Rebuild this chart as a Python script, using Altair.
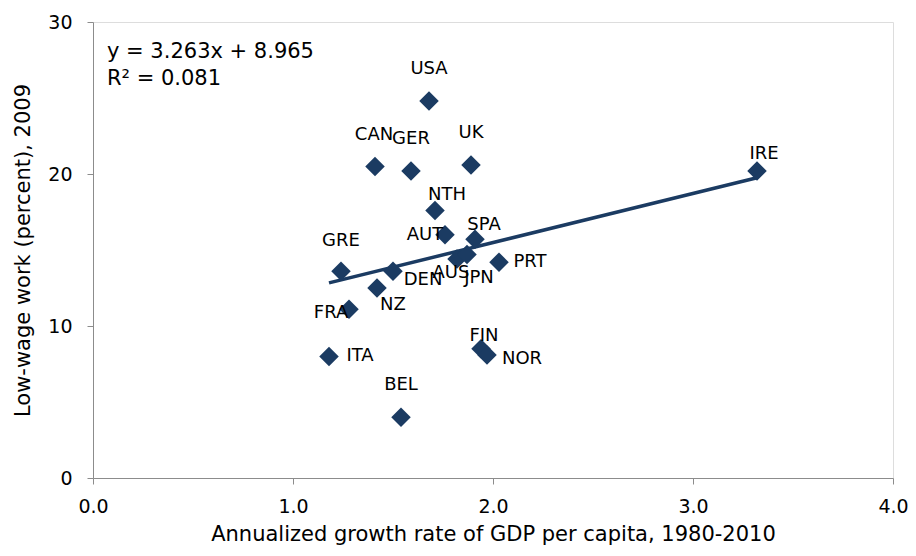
import altair as alt
import pandas as pd

countries = ["USA", "CAN", "GER", "UK", "NTH", "AUT", "SPA", "GRE", "DEN", "NZ",
             "FRA", "AUS", "JPN", "PRT", "ITA", "FIN", "NOR", "BEL", "IRE"]
growth = [1.68, 1.41, 1.59, 1.89, 1.71, 1.76, 1.91, 1.24, 1.50, 1.42,
          1.28, 1.82, 1.87, 2.03, 1.18, 1.94, 1.97, 1.54, 3.32]
lowwage = [24.8, 20.5, 20.2, 20.6, 17.6, 16.0, 15.7, 13.6, 13.6, 12.5,
           11.1, 14.4, 14.7, 14.2, 8.0, 8.5, 8.1, 4.0, 20.2]
equation_lines = ["y = 3.263x + 8.965", "R² = 0.081"]
x_ticks = [0, 1, 2, 3, 4]
y_ticks = [0, 10, 20, 30]

# label placement (pixel offsets from each marker), kept apart from the data
label_dx = {"USA": 0, "CAN": -1, "GER": 0, "UK": 0, "NTH": 12, "AUT": -20, "SPA": 9,
            "GRE": 0, "DEN": 30, "NZ": 16, "FRA": -18, "AUS": -6, "JPN": 12, "PRT": 31,
            "ITA": 31, "FIN": 3, "NOR": 35, "BEL": 0, "IRE": 7}
label_dy = {"USA": -32, "CAN": -31, "GER": -32, "UK": -32, "NTH": -15, "AUT": 0, "SPA": -14,
            "GRE": -30, "DEN": 9, "NZ": 17, "FRA": 4, "AUS": 14, "JPN": 23, "PRT": 0,
            "ITA": 0, "FIN": -13, "NOR": 4, "BEL": -32, "IRE": -17}

df = pd.DataFrame({"country": countries, "growth": growth, "lowwage": lowwage})

NAVY = "#1B3B62"
FONT = "DejaVu Sans"
AXIS_GREY = "#8C8C8C"

x_enc = alt.X("growth:Q",
              scale=alt.Scale(domain=[0, 4], nice=False, zero=True),
              axis=alt.Axis(values=x_ticks, format=".1f", grid=False, labelFlush=False,
                            title="Annualized growth rate of GDP per capita, 1980-2010",
                            titleFontSize=21, titleFont=FONT, titleFontWeight="normal",
                            titleColor="#000000", titlePadding=7,
                            labelFontSize=19, labelFont=FONT, labelColor="#000000",
                            labelPadding=13, tickSize=6, domainColor=AXIS_GREY,
                            tickColor=AXIS_GREY))
y_enc = alt.Y("lowwage:Q",
              scale=alt.Scale(domain=[0, 30], nice=False),
              axis=alt.Axis(values=y_ticks, grid=False,
                            title="Low-wage work (percent), 2009",
                            titleFontSize=21, titleFont=FONT, titleFontWeight="normal",
                            titleColor="#000000", titlePadding=14,
                            labelFontSize=19, labelFont=FONT, labelColor="#000000",
                            labelPadding=15, tickSize=6, domainColor=AXIS_GREY,
                            tickColor=AXIS_GREY))

base = alt.Chart(df)

points = base.mark_point(shape="diamond", filled=True, size=380, color=NAVY,
                         opacity=1).encode(x=x_enc, y=y_enc)

trend = base.transform_regression("growth", "lowwage").mark_line(
    color=NAVY, strokeWidth=3.5).encode(x="growth:Q", y="lowwage:Q")

label_layers = [
    base.transform_filter(alt.datum.country == c).mark_text(
        font=FONT, fontSize=18, color="#000000", align="center", baseline="middle",
        dx=label_dx[c], dy=label_dy[c]).encode(x="growth:Q", y="lowwage:Q", text="country:N")
    for c in countries
]

eq_df = pd.DataFrame({"line": ["\n".join(equation_lines)]})
equation = alt.Chart(eq_df).mark_text(font=FONT, fontSize=21, color="#000000",
                                      align="left", baseline="top",
                                      lineBreak="\n", lineHeight=27).encode(
    x=alt.value(14), y=alt.value(19), text="line:N")

chart = alt.layer(trend, points, *label_layers, equation).properties(
    width=800, height=456,
    padding={"left": 85, "top": 14, "right": 15, "bottom": 70},
    autosize=alt.AutoSizeParams(type="none"),
).configure_view(stroke=None).configure(background="white")

chart.save("out.html", embed_options={"renderer": "svg", "actions": False})
